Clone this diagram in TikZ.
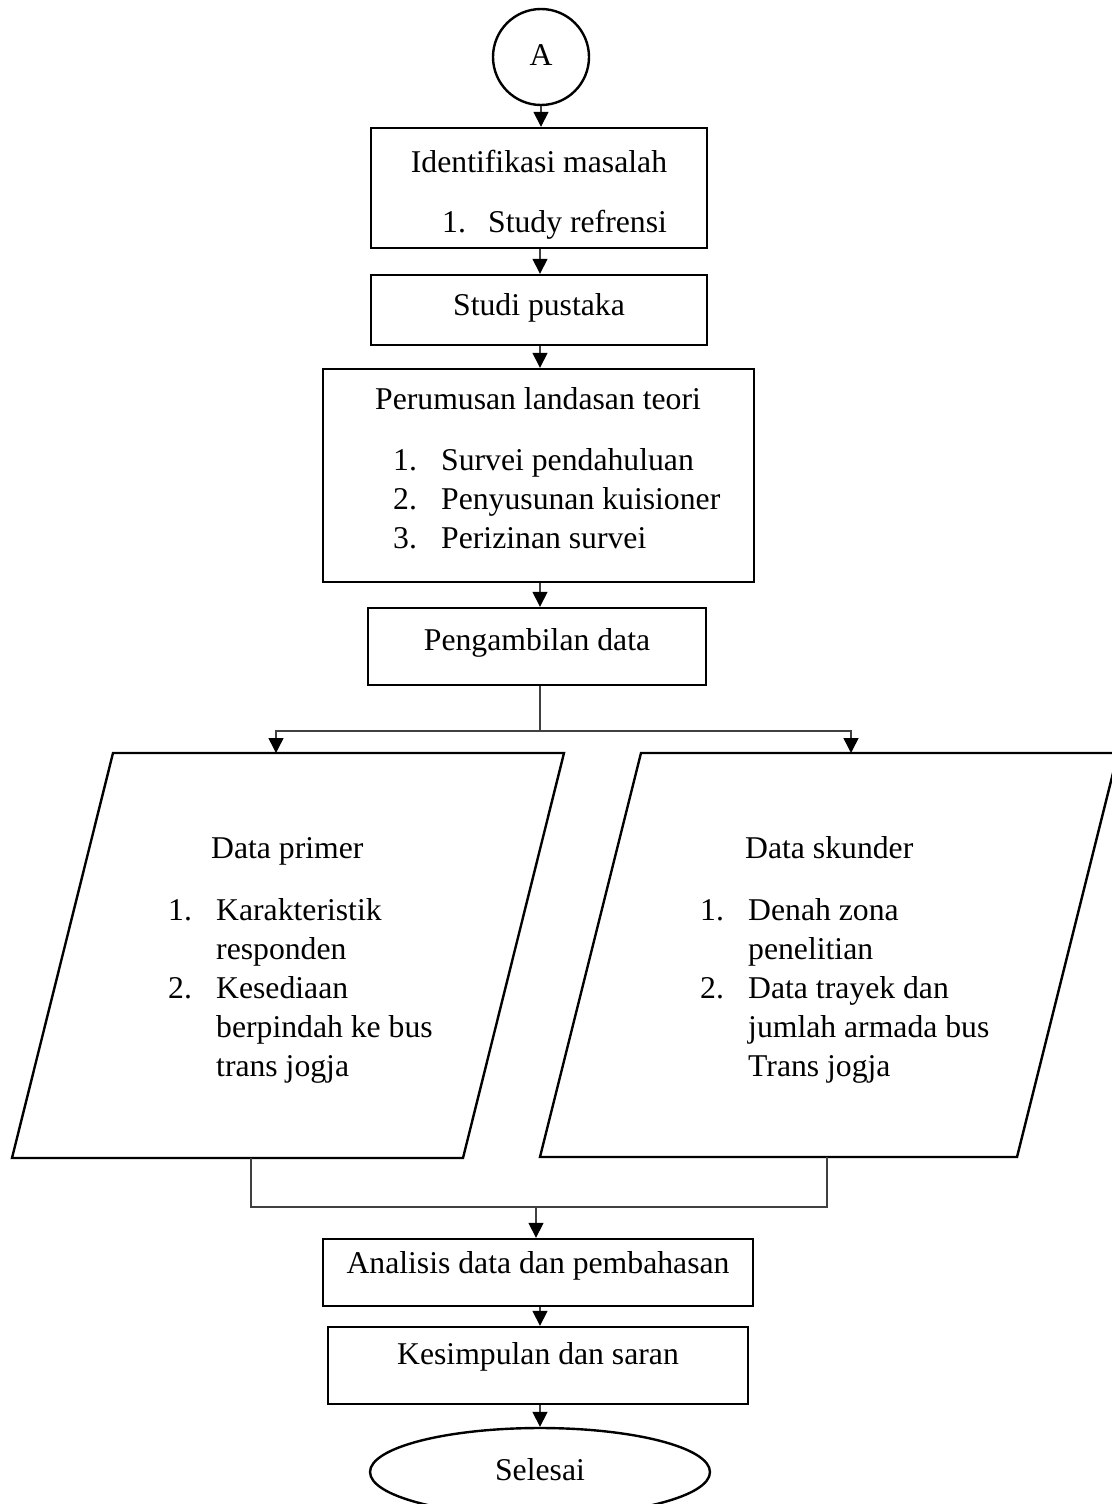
\documentclass[tikz,border=0pt]{standalone}
\usepackage{fontspec}
\setmainfont{Liberation Serif}
\usetikzlibrary{arrows.meta,shapes.geometric}
\begin{document}
\begin{tikzpicture}[x=1pt,y=-1pt,
  box/.style={draw=black, line width=2.4pt, inner sep=0pt},
  txt/.style={inner sep=0pt, anchor=base, font=\fontsize{31.7}{39}\selectfont},
  ltxt/.style={txt, anchor=base west},
  conn/.style={draw=black!75, line width=1.5pt},
  arr/.style={conn, -{Triangle[width=15pt,length=15pt,color=black]}},
]
\useasboundingbox (0,0) rectangle (1111,1504);
\fill[white] (0,0) rectangle (1111,1504);

% shapes
\node[box, circle, minimum size=96pt] (c1) at (541,57) {};
\node[box, minimum width=336pt, minimum height=120pt] (b1) at (539,188) {};
\node[box, minimum width=336pt, minimum height=70pt] (b2) at (539,310) {};
\node[box, minimum width=431pt, minimum height=213pt] (b3) at (538.5,475.5) {};
\node[box, minimum width=338pt, minimum height=77pt] (b4) at (537,646.5) {};
\node[box, minimum width=430pt, minimum height=67pt] (b5) at (538,1272.5) {};
\node[box, minimum width=420pt, minimum height=77pt] (b6) at (538,1365.5) {};
\node[box, ellipse, minimum width=340pt, minimum height=88pt] (e1) at (540,1472) {};

\draw[black, line width=2.4pt, line join=miter]
  (113,753) -- (564,753) -- (463,1158) -- (12,1158) -- cycle;
\draw[black, line width=2.4pt, line join=miter]
  (641,753) -- (1118,753) -- (1017,1157) -- (540,1157) -- cycle;

% connector points
\coordinate (br) at (540,731);
\coordinate (p1top) at (276,753);
\coordinate (p2top) at (851,753);
\coordinate (p1bot) at (251,1158);
\coordinate (p2bot) at (827,1157);
\coordinate (mg) at (536,1207);

% text
\node[txt] (tA) at (541,66) {A};
\node[txt] (t1) at (539,172) {Identifikasi masalah};
\node[ltxt] (t1a) at (442,232) {\makebox[46pt][l]{1.}Study refrensi};
\node[txt] (t2) at (539,315) {Studi pustaka};
\node[txt] (t3) at (538,409) {Perumusan landasan teori};
\node[ltxt] (t3a) at (393,470) {\begin{tabular}[t]{@{}p{48pt}@{}l@{}}1.&Survei pendahuluan\\2.&Penyusunan kuisioner\\3.&Perizinan survei\end{tabular}};
\node[txt] (t4) at (537,650) {Pengambilan data};
\node[ltxt] (t5) at (211,858) {Data primer};
\node[ltxt] (t5a) at (168,920) {\begin{tabular}[t]{@{}p{48pt}@{}l@{}}1.&Karakteristik\\&responden\\2.&Kesediaan\\&berpindah ke bus\\&trans jogja\end{tabular}};
\node[ltxt] (t6) at (745,858) {Data skunder};
\node[ltxt] (t6a) at (700,920) {\begin{tabular}[t]{@{}p{48pt}@{}l@{}}1.&Denah zona\\&penelitian\\2.&Data trayek dan\\&jumlah armada bus\\&Trans jogja\end{tabular}};
\node[txt] (t7) at (538,1273) {Analisis data dan pembahasan};
\node[txt] (t8) at (538,1364) {Kesimpulan dan saran};
\node[txt] (t9) at (540,1480) {Selesai};

% connectors
\draw[arr] (c1.south) -- (c1.south |- b1.north);
\draw[arr] (540,0 |- b1.south) -- (540,0 |- b2.north);
\draw[arr] (540,0 |- b2.south) -- (540,0 |- b3.north);
\draw[arr] (540,0 |- b3.south) -- (540,0 |- b4.north);
\draw[conn] (br |- b4.south) -- (br);
\draw[arr] (br) -| (p1top);
\draw[arr] (br) -| (p2top);
\draw[conn] (p1bot) |- (mg);
\draw[conn] (p2bot) |- (mg);
\draw[arr] (mg) -- (mg |- b5.north);
\draw[arr] (540,0 |- b5.south) -- (540,0 |- b6.north);
\draw[arr] (540,0 |- b6.south) -- (e1.north);
\end{tikzpicture}
\end{document}
